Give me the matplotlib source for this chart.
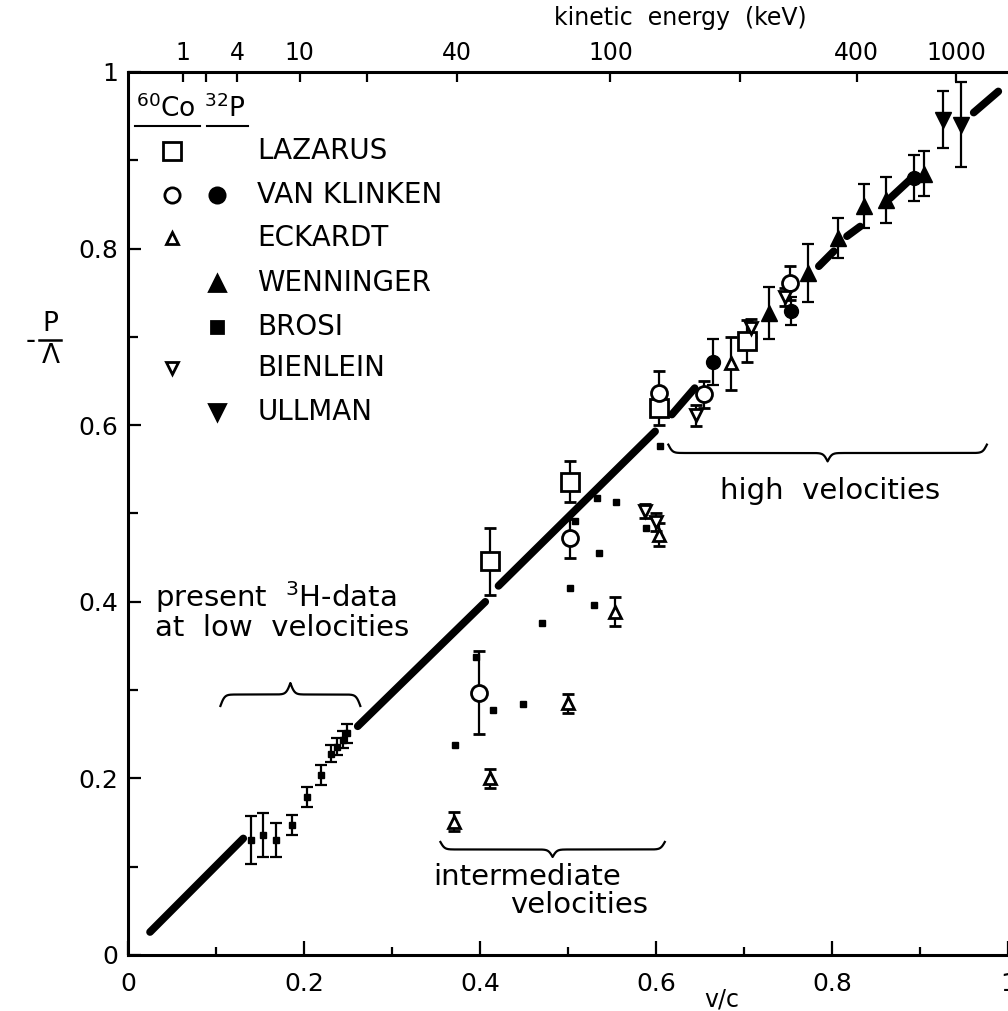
import numpy as np
import matplotlib
matplotlib.use("Agg")
import matplotlib.pyplot as plt

# ---- data (v/c, -P/Lambda) ----
# theory line y = v/c, drawn in pieces with gaps around the points
line_x0 = [0.025, 0.261, 0.421, 0.618, 0.785, 0.817, 0.866, 0.961]
line_y0 = [0.026, 0.259, 0.418, 0.612, 0.780, 0.814, 0.857, 0.954]
line_x1 = [0.131, 0.406, 0.599, 0.644, 0.802, 0.832, 0.893, 0.989]
line_y1 = [0.132, 0.400, 0.593, 0.642, 0.797, 0.825, 0.882, 0.978]

# present 3H data
h3_x = [0.140, 0.153, 0.168, 0.186, 0.203, 0.219, 0.231, 0.237, 0.244, 0.249]
h3_y = [0.130, 0.136, 0.130, 0.147, 0.179, 0.204, 0.228, 0.236, 0.244, 0.251]
h3_err = [0.027, 0.025, 0.019, 0.011, 0.011, 0.011, 0.010, 0.010, 0.010, 0.011]

laz_x = [0.411, 0.502, 0.603, 0.703]
laz_y = [0.446, 0.536, 0.620, 0.695]
laz_err = [0.038, 0.023, 0.020, 0.024]

vk_co_x = [0.399, 0.502, 0.603, 0.654, 0.752]
vk_co_y = [0.297, 0.472, 0.636, 0.635, 0.761]
vk_co_err = [0.047, 0.022, 0.025, 0.015, 0.019]

vk_p_x = [0.665, 0.753, 0.893]
vk_p_y = [0.672, 0.729, 0.880]
vk_p_err = [0.026, 0.016, 0.026]

eck_x = [0.3705, 0.411, 0.500, 0.553, 0.603, 0.685]
eck_y = [0.151, 0.200, 0.285, 0.389, 0.476, 0.670]
eck_err = [0.011, 0.011, 0.011, 0.016, 0.013, 0.030]

wen_x = [0.728, 0.773, 0.807, 0.836, 0.861, 0.905]
wen_y = [0.727, 0.772, 0.812, 0.848, 0.855, 0.885]
wen_err = [0.029, 0.033, 0.023, 0.025, 0.026, 0.026]

brosi_x = [0.372, 0.396, 0.415, 0.4485, 0.471, 0.502, 0.508, 0.530,
           0.5326, 0.535, 0.5545, 0.589, 0.604]
brosi_y = [0.238, 0.338, 0.278, 0.284, 0.376, 0.4155, 0.491, 0.396,
           0.5175, 0.455, 0.5125, 0.483, 0.576]

bien_x = [0.588, 0.600, 0.6455, 0.708, 0.747]
bien_y = [0.503, 0.490, 0.611, 0.710, 0.745]
bien_err = [0.008, 0.010, 0.012, 0.010, 0.010]

ull_x = [0.9265, 0.9466]
ull_y = [0.946, 0.9405]
ull_err = [0.032, 0.048]

# top axis: electron kinetic energy (keV)
energy_ticks = [1, 2, 4, 10, 20, 40, 100, 200, 400, 1000]
energy_labels = ["1", "", "4", "10", "", "40", "100", "", "400", "1000"]
ME_C2 = 511.0

legend_names = ["LAZARUS", "VAN KLINKEN", "ECKARDT", "WENNINGER",
                "BROSI", "BIENLEIN", "ULLMAN"]

# braces: (x_start, x_end, y_end, height)
braces = [(0.105, 0.264, 0.282, 0.026),
          (0.355, 0.610, 0.128, -0.017),
          (0.614, 0.976, 0.578, -0.019)]


def beta_of_energy(e_kev):
    g = 1.0 + np.asarray(e_kev, dtype=float) / ME_C2
    return np.sqrt(1.0 - 1.0 / g ** 2)


def draw_brace(ax, x0, x1, y_end, height, beta=420.0):
    xs = np.linspace(x0, x1, 401)
    half = xs[:201]
    s = (1 / (1 + np.exp(-beta * (half - half[0])))
         + 1 / (1 + np.exp(-beta * (half - half[-1])))) - 0.5
    s = np.concatenate([s, s[-2::-1]])
    ax.plot(xs, y_end + s * height, color="black", lw=1.6, zorder=2)


fig = plt.figure(figsize=(10.08, 10.11), dpi=100)
ax = fig.add_axes([0.127, 0.0554, 0.873, 0.8734])
ax.set_xlim(0, 1)
ax.set_ylim(0, 1)

for x0, y0, x1, y1 in zip(line_x0, line_y0, line_x1, line_y1):
    ax.plot([x0, x1], [y0, y1], color="black", lw=5.5,
            solid_capstyle="round", zorder=2)

eb = dict(color="black", elinewidth=1.6, capsize=4.5, capthick=1.6,
          ls="none", zorder=3)
ax.errorbar(h3_x, h3_y, yerr=h3_err, marker="s", ms=5, mfc="black",
            mec="black", **eb)
ax.errorbar(laz_x, laz_y, yerr=laz_err, marker="s", ms=13, mfc="white",
            mec="black", mew=2, **eb)
ax.errorbar(vk_co_x, vk_co_y, yerr=vk_co_err, marker="o", ms=11.5,
            mfc="white", mec="black", mew=2, **eb)
ax.errorbar(vk_p_x, vk_p_y, yerr=vk_p_err, marker="o", ms=10,
            mfc="black", mec="black", **eb)
ax.errorbar(eck_x, eck_y, yerr=eck_err, marker="^", ms=9, mfc="white",
            mec="black", mew=2, **eb)
ax.errorbar(wen_x, wen_y, yerr=wen_err, marker="^", ms=11, mfc="black",
            mec="black", **eb)
ax.plot(brosi_x, brosi_y, ls="none", marker="s", ms=5, color="black",
        zorder=3)
ax.errorbar(bien_x, bien_y, yerr=bien_err, marker="v", ms=9, mfc="white",
            mec="black", mew=2, **eb)
ax.errorbar(ull_x, ull_y, yerr=ull_err, marker="v", ms=12, mfc="black",
            mec="black", **eb)

for b in braces:
    draw_brace(ax, *b)

# annotations
fs_note = 21
ax.text(0.031, 0.405, r"present  $^{3}$H-data", fontsize=fs_note,
        ha="left", va="center")
ax.text(0.031, 0.370, "at  low  velocities", fontsize=fs_note,
        ha="left", va="center")
ax.text(0.347, 0.088, "intermediate", fontsize=fs_note, ha="left",
        va="center")
ax.text(0.434, 0.057, "velocities", fontsize=fs_note, ha="left",
        va="center")
ax.text(0.798, 0.525, "high  velocities", fontsize=fs_note, ha="center",
        va="center")

# legend drawn by hand: two marker columns (60Co, 32P)
tr = ax.transAxes
col_co, col_p, col_txt = 0.050, 0.101, 0.147
rows = [0.910, 0.861, 0.8125, 0.7615, 0.7116, 0.665, 0.615]
ax.text(0.043, 0.958, r"$^{60}$Co", transform=tr, fontsize=19,
        ha="center", va="center")
ax.text(0.110, 0.958, r"$^{32}$P", transform=tr, fontsize=19,
        ha="center", va="center")
ax.plot([0.008, 0.082], [0.939, 0.939], transform=tr, color="black", lw=1.5)
ax.plot([0.090, 0.136], [0.939, 0.939], transform=tr, color="black", lw=1.5)
leg_marks = [
    [("s", 13, "white"), None],
    [("o", 11, "white"), ("o", 11, "black")],
    [("^", 9, "white"), None],
    [None, ("^", 11, "black")],
    [None, ("s", 8, "black")],
    [("v", 9, "white"), None],
    [None, ("v", 11, "black")],
]
for name, y, marks in zip(legend_names, rows, leg_marks):
    for xc, m in zip((col_co, col_p), marks):
        if m is None:
            continue
        mk, ms, fc = m
        ax.plot([xc], [y], transform=tr, marker=mk, ms=ms, mfc=fc,
                mec="black", mew=2, ls="none")
    ax.text(col_txt, y, name, transform=tr, fontsize=20, ha="left",
            va="center")

# axes styling
for side in ("left", "bottom", "top"):
    ax.spines[side].set_linewidth(2.2)
ax.spines["right"].set_visible(False)

ax.set_xticks([0, 0.2, 0.4, 0.6, 0.8, 1.0])
ax.set_xticklabels(["0", "0.2", "0.4", "0.6", "0.8", "1"])
ax.set_xticks([0.1, 0.3, 0.5, 0.7, 0.9], minor=True)
ax.set_yticks([0, 0.2, 0.4, 0.6, 0.8, 1.0])
ax.set_yticklabels(["0", "0.2", "0.4", "0.6", "0.8", "1"])
ax.set_yticks([0.1, 0.3, 0.5, 0.7, 0.9], minor=True)
ax.tick_params(axis="both", which="both", direction="in", width=1.6,
               top=False, right=False, labelsize=18)
ax.tick_params(axis="x", which="major", length=10, pad=12)
ax.tick_params(axis="x", which="minor", length=6)
ax.tick_params(axis="y", which="major", length=9, pad=7)
ax.tick_params(axis="y", which="minor", length=7)

ax2 = ax.twiny()
ax2.set_xlim(0, 1)
ax2.set_xticks(beta_of_energy(energy_ticks))
ax2.set_xticklabels(energy_labels)
ax2.tick_params(axis="x", direction="in", length=7, width=1.6, pad=5,
                labelsize=17)
for sp in ax2.spines.values():
    sp.set_visible(False)

fig.text(0.675, 0.982, "kinetic  energy  (keV)", fontsize=17, ha="center",
         va="center")
fig.text(0.716, 0.011, "v/c", fontsize=17, ha="center", va="center")

# y label "-P/Lambda" built as a stacked fraction
fig.text(0.030, 0.663, "-", fontsize=20, ha="center", va="center")
fig.text(0.050, 0.680, "P", fontsize=19, ha="center", va="center")
fig.text(0.050, 0.648, "Λ", fontsize=19, ha="center", va="center")
fig.add_artist(plt.Line2D([0.039, 0.061], [0.664, 0.664],
                          transform=fig.transFigure, color="black", lw=1.8))

fig.savefig("out.png", dpi=100)
